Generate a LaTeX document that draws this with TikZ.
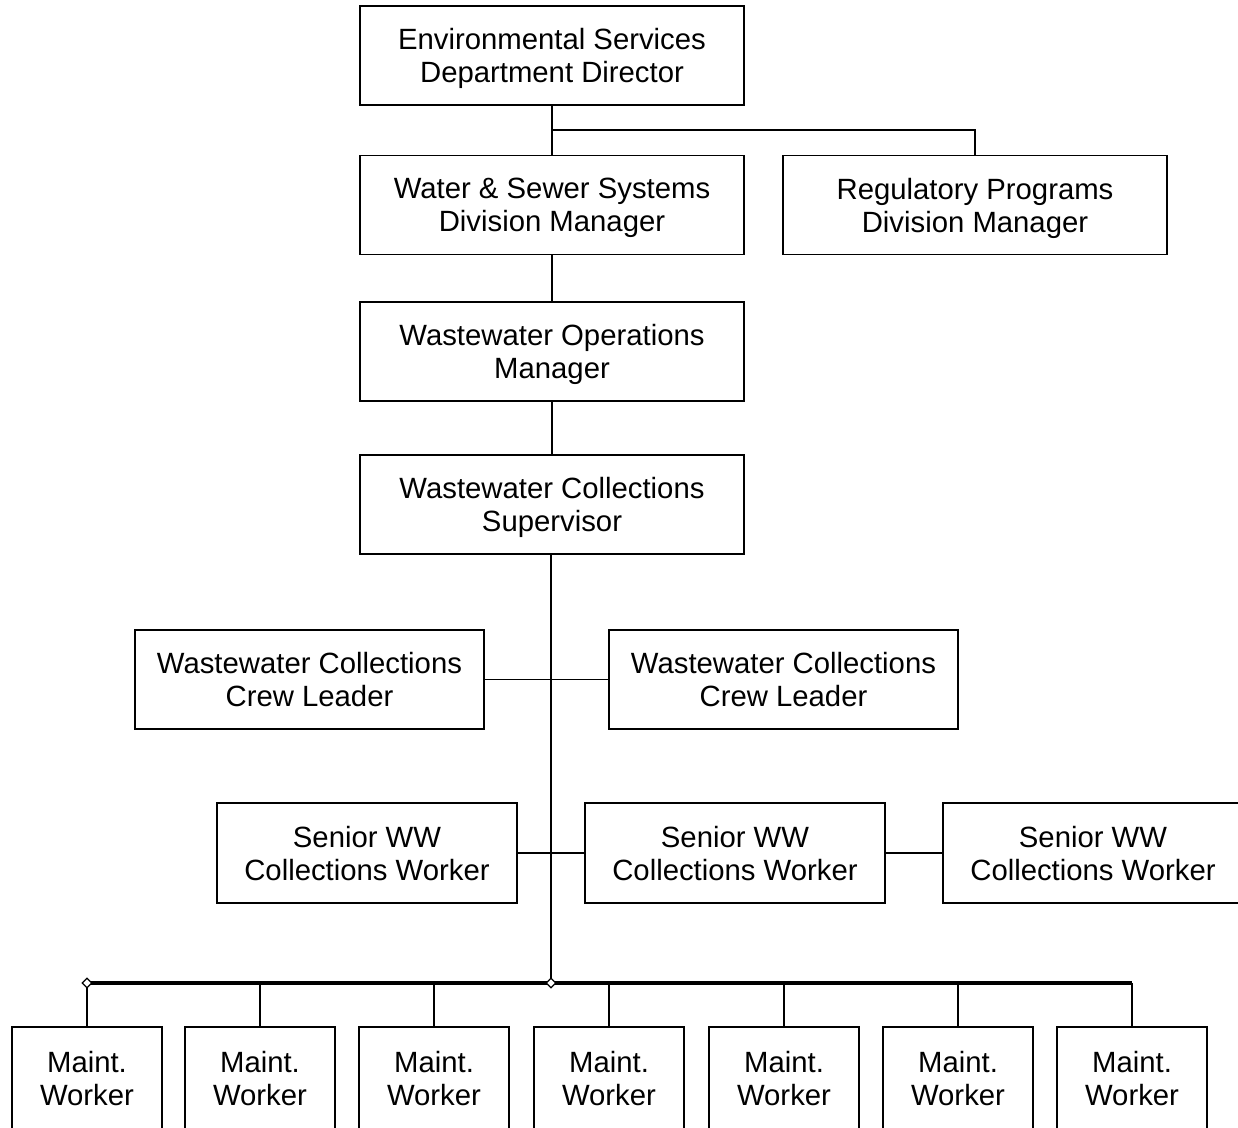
\documentclass[tikz,border=0pt]{standalone}
\usepackage{fontspec}
\setmainfont{Liberation Sans}
\usetikzlibrary{shapes.geometric}
\begin{document}
\begin{tikzpicture}[x=1pt,y=-1pt,
  box/.style={draw, line width=1.7pt, inner sep=0pt, align=center, text depth=0pt, font=\fontsize{29.3}{33}\selectfont},
  wbox/.style={box, minimum width=384pt, minimum height=99pt},
  clbox/.style={box, minimum width=349pt, minimum height=99pt},
  swbox/.style={box, minimum width=300pt, minimum height=100pt},
  mbox/.style={box, minimum width=150pt, minimum height=102pt},
  conn/.style={line width=1.7pt},
  bus/.style={line width=3.4pt},
  dmd/.style={diamond, draw, fill=white, line width=1.2pt, inner sep=0pt, minimum size=10pt}
]
\clip (0,0) rectangle (1238,1127);
\fill[white] (0,0) rectangle (1238,1127);

\node[wbox] (dir) at (552,55.5) {Environmental Services\\Department Director};
\node[wbox] (wsm) at (552,205) {Water \& Sewer Systems\\Division Manager};
\node[wbox] (reg) at (975,205) {Regulatory Programs\\Division Manager};
\node[wbox] (ops) at (552,351.5) {Wastewater Operations\\Manager};
\node[wbox] (sup) at (552,504.5) {Wastewater Collections\\Supervisor};
\node[clbox] (cl1) at (309.5,679.5) {Wastewater Collections\\Crew Leader};
\node[clbox] (cl2) at (783.5,679.5) {Wastewater Collections\\Crew Leader};
\node[swbox] (sw1) at (367,853) {Senior WW\\Collections Worker};
\node[swbox] (sw2) at (735,853) {Senior WW\\Collections Worker};
\node[swbox] (sw3) at (1093,853) {Senior WW\\Collections Worker};

\foreach \i/\x in {1/87,2/260,3/434,4/609,5/784,6/958,7/1132}{
  \node[mbox] (m\i) at (\x,1078) {Maint.\\Worker};
}

\coordinate (top) at (552,130);
\coordinate (trunk) at (551,983);

\draw[conn] (dir.south) -- (wsm.north);
\draw[conn] (top) -| (reg.north);
\draw[conn] (wsm.south) -- (ops.north);
\draw[conn] (ops.south) -- (sup.north);
\draw[conn] (sup.south -| trunk) -- (trunk);
\draw[conn] (cl1.east) -- (cl2.west);
\draw[conn] (sw1.east) -- (sw2.west);
\draw[conn] (sw2.east) -- (sw3.west);
\foreach \i in {1,...,7}{
  \draw[conn] (m\i.north) -- (m\i.north |- trunk);
}
\draw[bus] (m1.north |- trunk) -- (m7.north |- trunk);
\node[dmd] (d1) at (m1.north |- trunk) {};
\node[dmd] (d2) at (trunk) {};
\end{tikzpicture}
\end{document}
